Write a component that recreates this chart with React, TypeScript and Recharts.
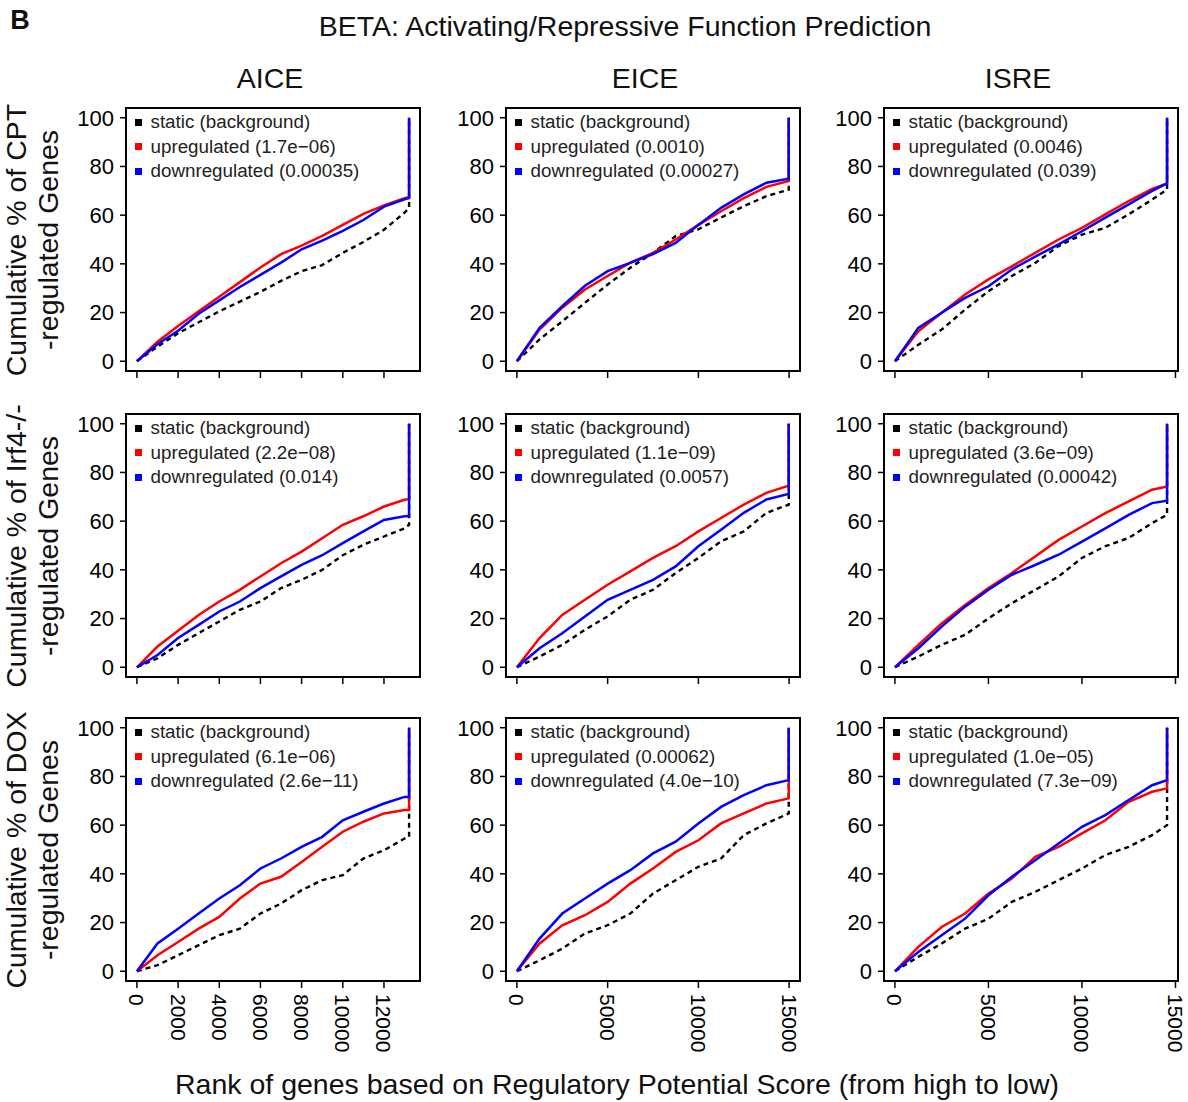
import React from 'react';
import { LineChart, Line, XAxis, YAxis, ReferenceArea, Legend } from 'recharts';

// rank grids (genes ranked by regulatory potential, high to low)
const AICE_RANKS = [0, 1000, 2000, 3000, 4000, 5000, 6000, 7000, 8000, 9000, 10000, 11000, 12000, 13000, 13220];
const EICE_RANKS = [0, 1250, 2500, 3750, 5000, 6250, 7500, 8750, 10000, 11250, 12500, 13750, 14980];
const ISRE_RANKS = [0, 1250, 2500, 3750, 5000, 6250, 7500, 8750, 10000, 11250, 12500, 13750, 14550];

const AICE_TICKS = [0, 2000, 4000, 6000, 8000, 10000, 12000];
const EICE_TICKS = [0, 5000, 10000, 15000];
const ISRE_TICKS = [0, 5000, 10000, 15000];
const PCT_TICKS = [0, 20, 40, 60, 80, 100];

// CPT-regulated genes
const cptAiceStatic = [0, 6, 11.5, 16, 20.5, 24.5, 28.5, 33, 37, 39.5, 44.5, 49, 54, 61, 63];
const cptAiceUp = [0, 8, 14.5, 20.5, 26.5, 32.5, 38.5, 44, 47.5, 51.5, 56, 60.5, 64, 67, 67.5];
const cptAiceDown = [0, 7, 12.5, 19.5, 25, 30.5, 35.5, 40.5, 46, 49.5, 53.5, 58, 63.5, 66.5, 67];
const cptEiceStatic = [0, 9, 16.4, 24, 31.5, 38.4, 44.5, 51.4, 54.2, 59, 63.7, 67.8, 70.5];
const cptEiceUp = [0, 13, 22, 29.5, 35, 40.5, 44.5, 50, 56, 61.6, 67, 71.6, 74];
const cptEiceDown = [0, 13.7, 22.6, 31, 37, 40.4, 44, 48.6, 56, 63, 68.5, 73.3, 75];
const cptIsreStatic = [0, 6.8, 13, 21.2, 28.8, 35, 40.4, 47.3, 52, 54.8, 60.3, 66.4, 70.5];
const cptIsreUp = [0, 12.3, 19.9, 27.4, 33.6, 39, 44.5, 50, 54.8, 60.3, 65.8, 70.8, 73];
const cptIsreDown = [0, 13.7, 19.9, 26, 30.8, 37.7, 43, 48, 53.4, 59, 64.4, 70, 73];

// Irf4-/- regulated genes
const irfAiceStatic = [0, 3.7, 9.2, 14, 18.8, 23.6, 27, 32.5, 35.9, 40, 46, 50.3, 53.7, 57, 58.5];
const irfAiceUp = [0, 8.5, 15, 21.5, 27, 31.8, 37.3, 42.7, 47.5, 53, 58.5, 62, 66, 68.8, 69];
const irfAiceDown = [0, 5, 12, 17.4, 22.9, 27, 32.5, 37.3, 42, 46, 51, 55.8, 60.5, 62, 62];
const irfEiceStatic = [0, 4.4, 9.2, 15.4, 20.9, 27.7, 31.8, 38.7, 44.9, 51.7, 55.8, 63.4, 66.8];
const irfEiceUp = [0, 12, 21.5, 27.7, 33.9, 39.4, 44.9, 49.7, 55.8, 61.3, 66.8, 71.6, 74.6];
const irfEiceDown = [0, 7.8, 14, 20.8, 27.7, 31.8, 35.9, 41.4, 49.7, 56.5, 63.4, 68.9, 71.2];
const irfIsreStatic = [0, 4.4, 9.2, 13.3, 20.1, 26.3, 31.8, 37.3, 44.9, 49.7, 53.1, 59.2, 62.6];
const irfIsreUp = [0, 9.2, 18, 25.6, 32.5, 38.7, 45.5, 52.3, 57.8, 63.3, 68.1, 72.9, 74.2];
const irfIsreDown = [0, 7.8, 16.7, 24.9, 31.8, 38, 42, 46.2, 51.6, 57, 62.6, 67.4, 68.4];

// DOX-regulated genes
const doxAiceStatic = [0, 2.5, 6.6, 10.7, 14.8, 17.5, 23.7, 27.8, 33.3, 37.4, 39.5, 46.3, 49.7, 54.5, 55.2];
const doxAiceUp = [0, 6.6, 12, 17.5, 22.3, 29.9, 36, 38.8, 44.9, 51.1, 57.3, 61.4, 64.8, 66.2, 66.2];
const doxAiceDown = [0, 11.4, 17.5, 23.7, 29.9, 35.3, 42.2, 46.3, 51.1, 55.2, 62, 65.5, 68.9, 71.6, 71.6];
const doxEiceStatic = [0, 4.5, 9.3, 15.5, 18.9, 23.7, 31.9, 37.4, 42.9, 46.3, 55.9, 60.7, 64.8];
const doxEiceUp = [0, 11.4, 18.9, 23, 28.5, 36, 42.2, 49, 53.8, 60.7, 64.8, 68.9, 71];
const doxEiceDown = [0, 13.4, 23.7, 29.9, 36, 41.5, 48.4, 53.2, 60.7, 67.5, 72.3, 76.4, 78.5];
const doxIsreStatic = [0, 5.9, 11.4, 17.5, 21.6, 28.5, 32.6, 37.4, 42.2, 47.7, 51.1, 55.9, 60];
const doxIsreUp = [0, 10, 18.2, 23.7, 31.9, 38.1, 47, 51.1, 56.6, 62, 69.6, 73.7, 75.1];
const doxIsreDown = [0, 7.9, 14.8, 21.6, 31.2, 38.8, 45.6, 52.5, 59.3, 64.1, 70.3, 76.4, 78.5];

// p-values shown in the legends [up, down]
const cptPvals = [['1.7e\u221206', '0.00035'], ['0.0010', '0.00027'], ['0.0046', '0.039']];
const irfPvals = [['2.2e\u221208', '0.014'], ['1.1e\u221209', '0.0057'], ['3.6e\u221209', '0.00042']];
const doxPvals = [['6.1e\u221206', '2.6e\u221211'], ['0.00062', '4.0e\u221210'], ['1.0e\u221205', '7.3e\u221209']];

const MOTIFS = ['AICE', 'EICE', 'ISRE'];
const ROW_LABELS = ['Cumulative % of CPT', 'Cumulative % of Irf4-/-', 'Cumulative % of DOX'];

const FONT = "'Liberation Sans', Arial, Helvetica, sans-serif";
const PLOT_W = 294;
const PLOT_H = 263;
const COL_LEFT = [126, 506, 884];
const ROW_TOP = [108, 414, 718];
const COL_CENTER = [270, 645, 1018];
const X_DOMAINS: [number, number][] = [[-530, 13750], [-600, 15600], [-585, 15135]];
const COL_RANKS = [AICE_RANKS, EICE_RANKS, ISRE_RANKS];
const COL_TICKS = [AICE_TICKS, EICE_TICKS, ISRE_TICKS];

const ROWS = [
  { pvals: cptPvals, series: [[cptAiceStatic, cptAiceUp, cptAiceDown], [cptEiceStatic, cptEiceUp, cptEiceDown], [cptIsreStatic, cptIsreUp, cptIsreDown]] },
  { pvals: irfPvals, series: [[irfAiceStatic, irfAiceUp, irfAiceDown], [irfEiceStatic, irfEiceUp, irfEiceDown], [irfIsreStatic, irfIsreUp, irfIsreDown]] },
  { pvals: doxPvals, series: [[doxAiceStatic, doxAiceUp, doxAiceDown], [doxEiceStatic, doxEiceUp, doxEiceDown], [doxIsreStatic, doxIsreUp, doxIsreDown]] },
];

// every curve closes with a jump to 100% at the last rank
function toPoints(ranks: number[], pct: number[]) {
  const pts = ranks.map((rank, i) => ({ rank, pct: pct[i] }));
  pts.push({ rank: ranks[ranks.length - 1], pct: 100 });
  return pts;
}

const EmptyTick = () => <g />;

const RotTick = (props: any) => {
  const { x, y, payload } = props;
  return (
    <text x={x} y={y} transform={`rotate(90 ${x} ${y})`} textAnchor="start" dominantBaseline="central" fontSize={21} fill="#000">
      {payload.value}
    </text>
  );
};

function LegendBox({ items }: { items: { label: string; color: string }[] }) {
  return (
    <div style={{ fontFamily: FONT, fontSize: 18.8, color: '#222' }}>
      {items.map((it) => (
        <div key={it.label} style={{ display: 'flex', alignItems: 'center', height: 24.5, whiteSpace: 'nowrap' }}>
          <span style={{ display: 'inline-block', width: 7, height: 7, background: it.color, marginLeft: 8.5, marginRight: 9 }} />
          <span>{it.label}</span>
        </div>
      ))}
    </div>
  );
}

function Panel({ row, col }: { row: number; col: number }) {
  const ranks = COL_RANKS[col];
  const [st, up, down] = ROWS[row].series[col];
  const [pUp, pDown] = ROWS[row].pvals[col];
  const domain = X_DOMAINS[col];
  const bottomRow = row === 2;
  const xh = bottomRow ? 80 : 12;
  const items = [
    { label: 'static (background)', color: '#000' },
    { label: `upregulated (${pUp})`, color: '#ff0000' },
    { label: `downregulated (${pDown})`, color: '#0000ff' },
  ];
  return (
    <div style={{ position: 'absolute', left: COL_LEFT[col] - 60, top: ROW_TOP[row] - 5 }}>
      <LineChart width={60 + PLOT_W + 14} height={5 + PLOT_H + xh} margin={{ top: 5, right: 14, bottom: 0, left: 0 }}>
        <XAxis
          type="number"
          dataKey="rank"
          domain={domain}
          ticks={COL_TICKS[col]}
          interval={0}
          allowDataOverflow
          axisLine={false}
          tickSize={7}
          tickMargin={6}
          tickLine={{ stroke: '#000', strokeWidth: 1.5 }}
          height={xh}
          tick={bottomRow ? RotTick : EmptyTick}
        />
        <YAxis
          type="number"
          domain={[-4, 104]}
          ticks={PCT_TICKS}
          interval={0}
          allowDataOverflow
          axisLine={false}
          width={60}
          tickSize={6}
          tickMargin={6}
          tickLine={{ stroke: '#000', strokeWidth: 1.5 }}
          tick={{ fill: '#000', fontSize: 22 }}
        />
        <Legend
          layout="vertical"
          align="center"
          verticalAlign="middle"
          wrapperStyle={{ left: 60, top: 7, width: 290, height: 80 }}
          content={() => <LegendBox items={items} />}
        />
        <Line data={toPoints(ranks, st)} dataKey="pct" stroke="#000" strokeWidth={2.4} strokeDasharray="5 4" dot={false} activeDot={false} isAnimationActive={false} />
        <Line data={toPoints(ranks, up)} dataKey="pct" stroke="#ff0000" strokeWidth={2.5} dot={false} activeDot={false} isAnimationActive={false} />
        <Line data={toPoints(ranks, down)} dataKey="pct" stroke="#0000ff" strokeWidth={2.5} dot={false} activeDot={false} isAnimationActive={false} />
        <ReferenceArea x1={domain[0]} x2={domain[1]} y1={-4} y2={104} fill="none" stroke="#000" strokeWidth={2} ifOverflow="visible" />
      </LineChart>
    </div>
  );
}

function Label({ x, y, text, size = 28.5, rotate = 0, bold = false }: { x: number; y: number; text: string; size?: number; rotate?: number; bold?: boolean }) {
  return (
    <div
      style={{
        position: 'absolute',
        left: x,
        top: y,
        transform: `translate(-50%, -50%) rotate(${rotate}deg)`,
        fontSize: size,
        lineHeight: 1,
        fontWeight: bold ? 'bold' : 'normal',
        whiteSpace: 'nowrap',
        color: '#111',
      }}
    >
      {text}
    </div>
  );
}

export default function App() {
  return (
    <div style={{ position: 'absolute', left: 0, top: 0, width: 1188, height: 1102, background: '#fff', fontFamily: FONT, overflow: 'hidden' }}>
      <Label x={20} y={20} text="B" bold size={27} />
      <Label x={625} y={26} text="BETA: Activating/Repressive Function Prediction" />
      {MOTIFS.map((m, c) => (
        <Label key={m} x={COL_CENTER[c]} y={78} text={m} />
      ))}
      {ROW_LABELS.map((t, r) => (
        <React.Fragment key={t}>
          <Label x={16} y={ROW_TOP[r] + PLOT_H / 2} text={t} rotate={-90} />
          <Label x={48} y={ROW_TOP[r] + PLOT_H / 2} text="-regulated Genes" rotate={-90} />
        </React.Fragment>
      ))}
      {[0, 1, 2].map((r) => [0, 1, 2].map((c) => <Panel key={`${r}-${c}`} row={r} col={c} />))}
      <Label x={617} y={1084} text="Rank of genes based on Regulatory Potential Score (from high to low)" />
    </div>
  );
}
